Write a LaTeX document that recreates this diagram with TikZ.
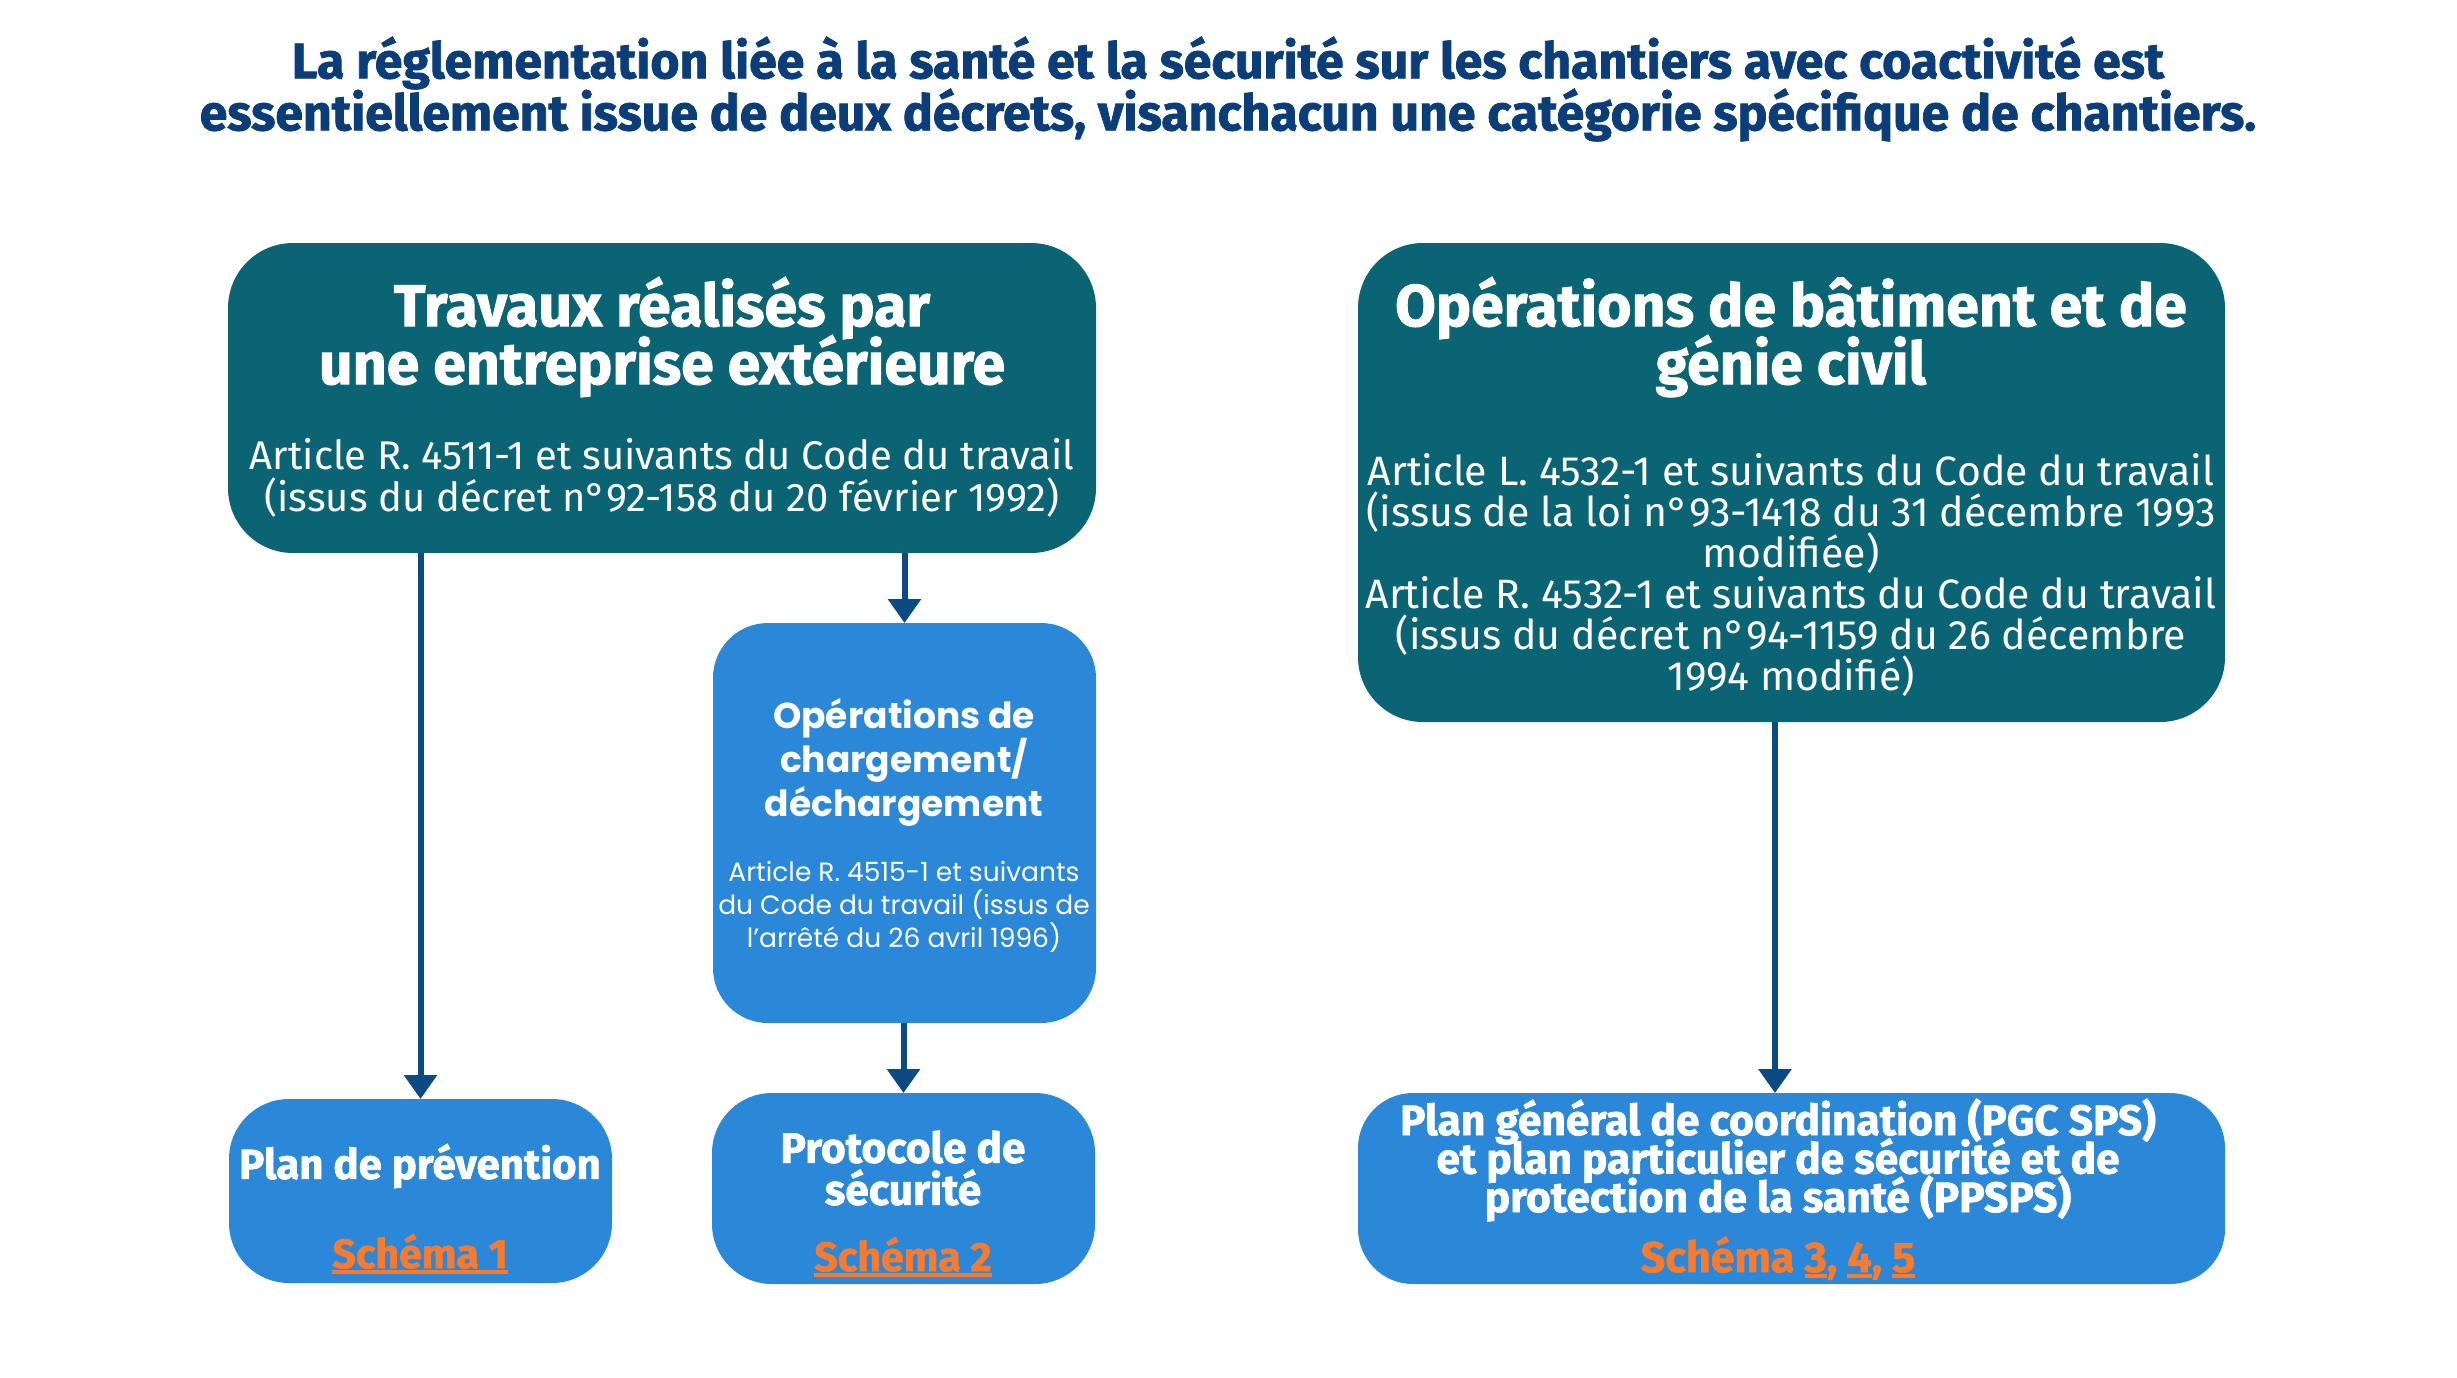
\documentclass[tikz,border=0pt]{standalone}
\usepackage{fontspec}
\setmainfont{Fira Sans}
\newfontfamily\heavyfont{Fira Sans}[BoldFeatures={FakeBold=1.5}]
\newfontfamily\popp{Poppins}
\usetikzlibrary{arrows.meta}
\definecolor{boxteal}{HTML}{0A6474}
\definecolor{boxblue}{HTML}{2B88D8}
\definecolor{titlenavy}{HTML}{0B3E78}
\definecolor{arrnavy}{HTML}{0B4A82}
\definecolor{linkorange}{HTML}{F47B2F}
\newcommand\myul[1]{\setbox0\hbox{#1}\rlap{\rule[-6pt]{\wd0}{4pt}}\box0}
\tikzset{
  tealbox/.style={fill=boxteal, draw=none, inner sep=0, outer sep=0},
  bluebox/.style={fill=boxblue, draw=none, inner sep=0, outer sep=0},
  txt/.style={text=white, inner sep=0, align=center},
  arr/.style={draw=arrnavy, line width=6pt, -{Triangle[width=32pt,length=24pt]}},
}
\begin{document}
\begin{tikzpicture}[x=1pt,y=-1pt]
\lineskiplimit=-1000pt
\useasboundingbox (0,0) rectangle (2457,1377);
\fill[white] (0,0) rectangle (2457,1377);

\node[txt, text=titlenavy, font=\fontsize{50}{52}\selectfont\heavyfont\bfseries] (title) at (1228,89)
  {La réglementation liée à la santé et la sécurité sur les chantiers avec coactivité est\\
   essentiellement issue de deux décrets, visanchacun une catégorie spécifique de chantiers.};

% boxes
\node[tealbox, rounded corners=65pt, minimum width=868pt, minimum height=310pt] (A) at (662,398) {};
\node[tealbox, rounded corners=65pt, minimum width=867pt, minimum height=479pt] (B) at (1791.5,482.5) {};
\node[bluebox, rounded corners=55pt, minimum width=383pt, minimum height=400pt] (C) at (904.5,823) {};
\node[bluebox, rounded corners=60pt, minimum width=383pt, minimum height=184pt] (D) at (420.5,1191) {};
\node[bluebox, rounded corners=60pt, minimum width=383pt, minimum height=191pt] (E) at (903.5,1188.5) {};
\node[bluebox, rounded corners=55pt, minimum width=867pt, minimum height=191pt] (F) at (1791.5,1188.5) {};

% texts
\node[txt, font=\fontsize{59}{58}\selectfont\heavyfont\bfseries] (Ah) at (662,337)
  {Travaux réalisés par\\une entreprise extérieure};
\node[txt, font=\fontsize{40}{42}\selectfont] (Ab) at (662,478)
  {Article R. 4511-1 et suivants du Code du travail\\(issus du décret n°92-158 du 20 février 1992)};

\node[txt, font=\fontsize{59}{58}\selectfont\heavyfont\bfseries] (Bh) at (1791,337)
  {Opérations de bâtiment et de\\génie civil};
\node[txt, font=\fontsize{41}{41}\selectfont] (Bb) at (1791,575)
  {Article L. 4532-1 et suivants du Code du travail\\(issus de la loi n°93-1418 du 31 décembre 1993\\modifiée)\\
   Article R. 4532-1 et suivants du Code du travail\\(issus du décret n°94-1159 du 26 décembre\\1994 modifié)};

\node[txt, font=\fontsize{36}{44}\selectfont\popp\bfseries] (Ch) at (904,762)
  {Opérations de\\chargement/\\déchargement};
\node[txt, font=\fontsize{26.5}{33}\selectfont\popp] (Cb) at (904,907)
  {Article R. 4515-1 et suivants\\du Code du travail (issus de\\l’arrêté du 26 avril 1996)};

\node[txt, font=\fontsize{42}{44}\selectfont\heavyfont\bfseries] (Dh) at (420,1166) {Plan de prévention};
\node[txt, text=linkorange, font=\fontsize{41}{44}\selectfont\heavyfont\bfseries] (Ds) at (420,1254) {\myul{Schéma 1}};

\node[txt, font=\fontsize{42.5}{42}\selectfont\heavyfont\bfseries] (Eh) at (903,1168) {Protocole de\\sécurité};
\node[txt, text=linkorange, font=\fontsize{41}{44}\selectfont\heavyfont\bfseries] (Es) at (903,1257) {\myul{Schéma 2}};

\node[txt, font=\fontsize{42.5}{38.5}\selectfont\heavyfont\bfseries] (Fh) at (1778,1160)
  {Plan général de coordination (PGC SPS)\\et plan particulier de sécurité et de\\protection de la santé (PPSPS)};
\node[txt, text=linkorange, font=\fontsize{43}{44}\selectfont\heavyfont\bfseries] (Fs) at (1778,1258)
  {Schéma \myul{3}, \myul{4}, \myul{5}};

% connectors
\coordinate (bf) at (1775,0);
\draw[arr] (A.south -| D.north) -- (D.north);
\draw[arr] (A.south -| C.north) -- (C.north);
\draw[arr] (C.south -| E.north) -- (E.north);
\draw[arr] (B.south -| bf) -- (F.north -| bf);
\end{tikzpicture}
\end{document}
